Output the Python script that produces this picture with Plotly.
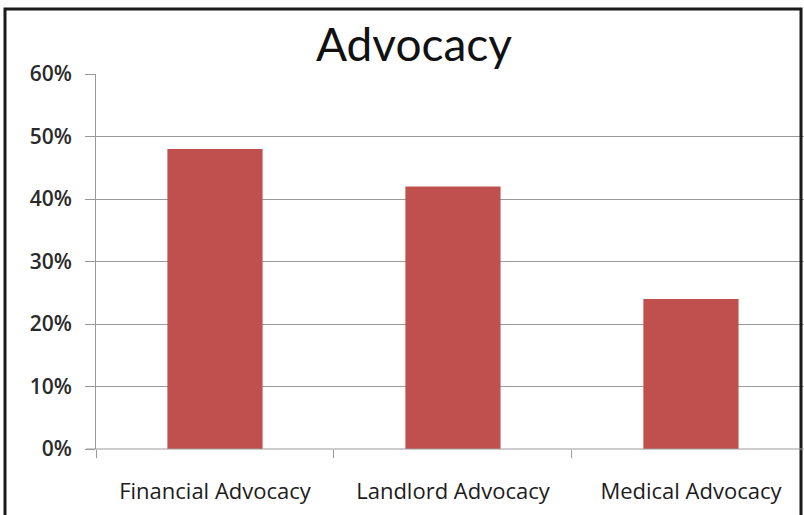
import plotly.graph_objects as go

categories = ["Financial Advocacy", "Landlord Advocacy", "Medical Advocacy"]
values = [0.48, 0.42, 0.24]
tick_vals = [0, 0.1, 0.2, 0.3, 0.4, 0.5, 0.6]
tick_text = ["0%", "10%", "20%", "30%", "40%", "50%", "60%"]

W, H = 804, 515
L, R, T, B = 96, 0, 74, 66
pw, ph = W - L - R, H - T - B

def px_x(x):
    return (x - L) / pw

def px_y(y):
    return (H - B - y) / ph

fig = go.Figure(go.Bar(
    x=categories, y=values, width=0.4,
    marker=dict(color="#C0504D", line=dict(width=0)),
))

fig.update_layout(
    width=W, height=H,
    margin=dict(l=L, r=R, t=T, b=B),
    paper_bgcolor="white", plot_bgcolor="white",
    showlegend=False,
    font=dict(family="Open Sans", color="#222222"),
    title=dict(text="Advocacy", x=414 / W, xanchor="center", y=1 - 45 / H, yanchor="middle",
               font=dict(family="Lato", size=46, color="#111111")),
    xaxis=dict(range=[-0.5, 2.475], showgrid=False, showline=False, ticks="outside",
               tickson="boundaries", ticklen=8, tickcolor="#999999",
               tickfont=dict(family="Open Sans", size=22, color="#1c1c1c"),
               ticklabelstandoff=27, zeroline=False),
    yaxis=dict(range=[0, 0.6], tickvals=tick_vals, ticktext=tick_text,
               showgrid=True, gridcolor="#9a9a9a", gridwidth=1,
               showline=True, linecolor="#9a9a9a", linewidth=1,
               ticks="outside", ticklen=10, tickcolor="#9a9a9a",
               tickfont=dict(family="Open Sans", size=21, color="#2a2a2a", weight=600),
               ticklabelstandoff=9, zeroline=False),
    shapes=[
        dict(type="rect", xref="paper", yref="paper",
             x0=px_x(5), x1=px_x(801), y0=px_y(530), y1=px_y(9),
             line=dict(color="#1a1a1a", width=3), fillcolor="rgba(0,0,0,0)", layer="above"),
        dict(type="line", xref="paper", yref="paper",
             x0=px_x(86), x1=1, y0=0, y1=0,
             line=dict(color="#9a9a9a", width=1)),
    ],
)

fig.write_html("out.html", config={"displayModeBar": False},
               post_script="document.body.style.margin='0';document.body.style.overflow='hidden';")
